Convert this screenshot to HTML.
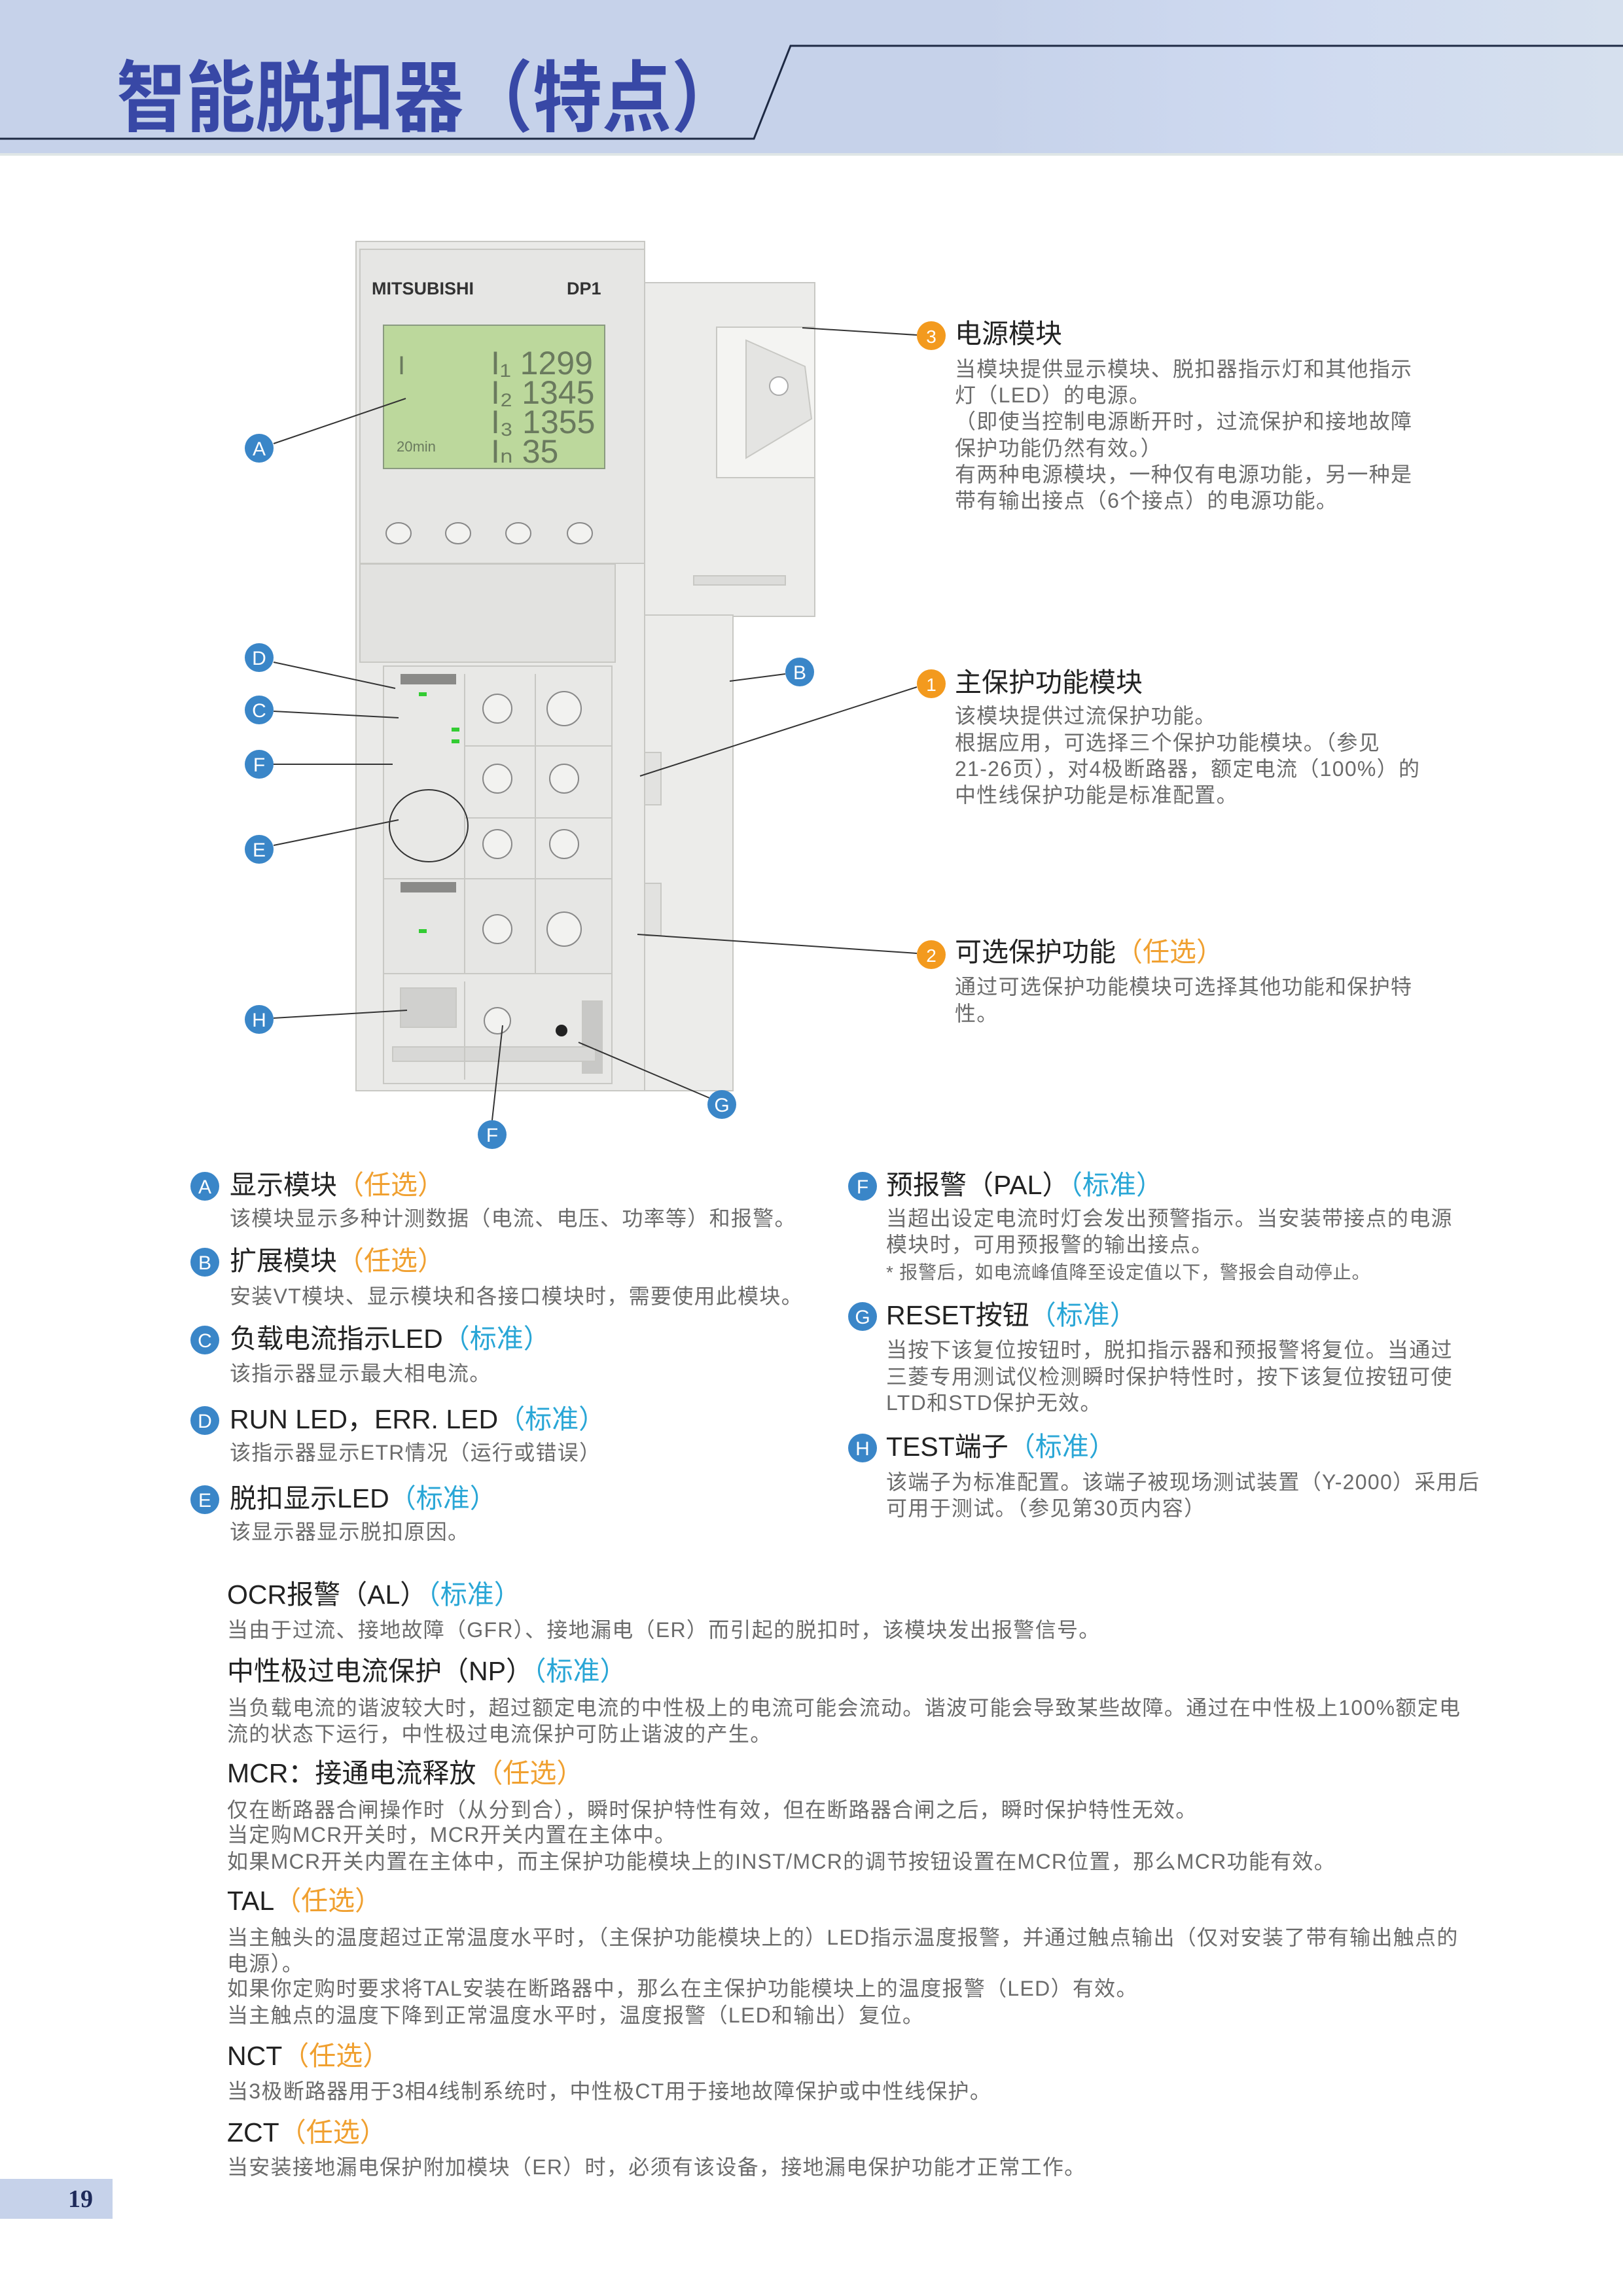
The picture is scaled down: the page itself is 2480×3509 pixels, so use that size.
<!DOCTYPE html>
<html><head><meta charset="utf-8">
<style>
html,body{margin:0;padding:0;}
body{width:2480px;height:3509px;position:relative;background:#fff;overflow:hidden;font-family:"Liberation Sans","Noto Sans CJK SC",sans-serif;}
.a{position:absolute;white-space:nowrap;}
.t{font-size:41px;line-height:44px;color:#222;}
.b{font-size:32px;line-height:36px;color:#6b6b6b;letter-spacing:1.3px;}
.n{font-size:28px;line-height:32px;color:#6b6b6b;letter-spacing:0.8px;}
.o{color:#f0a030;}
.c{color:#29a6d6;}
</style></head><body>
<!-- header -->
<div class="a" style="left:0;top:0;width:2480px;height:235px;background:linear-gradient(90deg,#c6d2ea 0%,#c6d2ea 60%,#cfdaf0 80%,#d6e0ee 100%);"></div>
<svg class="a" style="left:0;top:0" width="2480" height="240">
<polyline points="0,212 1152,212 1208,70 2480,70" fill="none" stroke="#1e2a44" stroke-width="3"/>
<line x1="0" y1="236" x2="2480" y2="236" stroke="#dfe6e6" stroke-width="4"/>
</svg>
<div class="a" style="left:178px;top:70px;font-size:106px;line-height:140px;color:#3848a6;font-weight:bold;font-family:'Noto Sans CJK SC',sans-serif;transform:scaleY(1.12);transform-origin:left center;">智能脱扣器（特点）</div>

<!-- device + callouts -->
<svg class="a" style="left:0;top:0" width="2480" height="2400">
<g stroke="#c8c8c4" stroke-width="2">
<rect x="985" y="432" width="260" height="510" fill="#ececea"/>
<rect x="1095" y="500" width="150" height="230" fill="#f4f4f2"/>
<polygon points="1140,520 1230,560 1240,640 1140,700" fill="#e4e4e2"/>
<circle cx="1190" cy="590" r="14" fill="#fff" stroke="#aaa"/>
<rect x="1060" y="880" width="140" height="14" fill="#dcdcda"/>
<rect x="935" y="940" width="185" height="727" fill="#ececea"/>
<rect x="970" y="1150" width="40" height="80" fill="#e2e2e0"/>
<rect x="970" y="1350" width="40" height="80" fill="#e2e2e0"/>
<rect x="544" y="369" width="441" height="1298" fill="#eaeae8"/>
<rect x="550" y="381" width="435" height="480" fill="#e6e6e4"/>
<rect x="586" y="497" width="338" height="219" fill="#bcd89c" stroke="#8a9a80"/>
<rect x="550" y="862" width="390" height="150" fill="#e2e2e0"/>
<rect x="586" y="1018" width="349" height="325" fill="#e8e8e6"/>
<rect x="586" y="1343" width="349" height="145" fill="#e6e6e4"/>
<rect x="586" y="1488" width="349" height="168" fill="#e8e8e6"/>
<rect x="612" y="1510" width="85" height="60" fill="#d0d0ce"/>
<rect x="890" y="1530" width="30" height="110" fill="#c8c8c6"/>
<rect x="600" y="1600" width="310" height="22" fill="#d8d8d6"/>
<line x1="710" y1="1030" x2="710" y2="1488"/><line x1="818" y1="1030" x2="818" y2="1488"/>
<line x1="710" y1="1140" x2="935" y2="1140"/><line x1="710" y1="1250" x2="935" y2="1250"/>
<line x1="710" y1="1500" x2="710" y2="1650"/>
</g>
<g fill="#f2f2f0" stroke="#888" stroke-width="2">
<ellipse cx="609" cy="815" rx="19" ry="16"/><ellipse cx="700" cy="815" rx="19" ry="16"/><ellipse cx="792" cy="815" rx="19" ry="16"/><ellipse cx="886" cy="815" rx="19" ry="16"/>
<circle cx="760" cy="1083" r="22"/><circle cx="862" cy="1083" r="26"/><circle cx="760" cy="1190" r="22"/><circle cx="862" cy="1190" r="22"/><circle cx="760" cy="1290" r="22"/><circle cx="862" cy="1290" r="22"/><circle cx="760" cy="1420" r="22"/><circle cx="862" cy="1420" r="26"/><circle cx="760" cy="1560" r="20"/>
</g>
<ellipse cx="655" cy="1262" rx="60" ry="55" fill="none" stroke="#333" stroke-width="2"/>
<rect x="612" y="1030" width="85" height="16" fill="#8a8a88"/>
<rect x="612" y="1348" width="85" height="16" fill="#8a8a88"/>
<g fill="#3c3"><rect x="640" y="1058" width="12" height="6"/><rect x="690" y="1112" width="12" height="6"/><rect x="690" y="1130" width="12" height="6"/><rect x="640" y="1420" width="12" height="6"/></g>
<circle cx="858" cy="1575" r="9" fill="#222"/>
<text x="568" y="450" font-family="Liberation Sans" font-weight="bold" font-size="27" fill="#333">MITSUBISHI</text>
<text x="866" y="450" font-family="Liberation Sans" font-weight="bold" font-size="27" fill="#333">DP1</text>
<g font-family="Liberation Sans" fill="#6a7a5e" font-size="50">
<text x="750" y="572">I₁ 1299</text><text x="750" y="617">I₂ 1345</text><text x="750" y="662">I₃ 1355</text><text x="750" y="707">Iₙ   35</text>
<text x="608" y="572" font-size="40">I</text><text x="606" y="690" font-size="22">20min</text>
</g>
<g stroke="#333" stroke-width="2">
<line x1="418" y1="678" x2="620" y2="609"/>
<line x1="418" y1="1012" x2="604" y2="1052"/>
<line x1="418" y1="1087" x2="609" y2="1097"/>
<line x1="418" y1="1168" x2="600" y2="1168"/>
<line x1="418" y1="1292" x2="609" y2="1253"/>
<line x1="418" y1="1556" x2="622" y2="1544"/>
<line x1="752" y1="1712" x2="768" y2="1567"/>
<line x1="1084" y1="1678" x2="884" y2="1593"/>
<line x1="1200" y1="1030" x2="1115" y2="1041"/>
<line x1="1401" y1="512" x2="1226" y2="501"/>
<line x1="1401" y1="1050" x2="978" y2="1186"/>
<line x1="1401" y1="1457" x2="974" y2="1428"/>
</g>
<g fill="#3a86c8">
<circle cx="396" cy="685" r="22"/><circle cx="396" cy="1005" r="22"/><circle cx="396" cy="1085" r="22"/><circle cx="396" cy="1168" r="22"/><circle cx="396" cy="1298" r="22"/><circle cx="396" cy="1558" r="22"/><circle cx="752" cy="1734" r="22"/><circle cx="1103" cy="1688" r="22"/><circle cx="1222" cy="1027" r="22"/>
<circle cx="313" cy="1813" r="22"/><circle cx="313" cy="1929" r="22"/><circle cx="313" cy="2048" r="22"/><circle cx="313" cy="2171" r="22"/><circle cx="313" cy="2292" r="22"/>
<circle cx="1318" cy="1813" r="22"/><circle cx="1318" cy="2012" r="22"/><circle cx="1318" cy="2213" r="22"/>
</g>
<g fill="#f39a1e"><circle cx="1423" cy="513" r="22"/><circle cx="1423" cy="1045" r="22"/><circle cx="1423" cy="1459" r="22"/></g>
<g font-family="Liberation Sans" font-size="30" fill="#fff" text-anchor="middle">
<text x="396" y="696">A</text><text x="396" y="1016">D</text><text x="396" y="1096">C</text><text x="396" y="1179">F</text><text x="396" y="1309">E</text><text x="396" y="1569">H</text><text x="752" y="1745">F</text><text x="1103" y="1699">G</text><text x="1222" y="1038">B</text>
<text x="313" y="1824">A</text><text x="313" y="1940">B</text><text x="313" y="2059">C</text><text x="313" y="2182">D</text><text x="313" y="2303">E</text>
<text x="1318" y="1824">F</text><text x="1318" y="2023">G</text><text x="1318" y="2224">H</text>
<text x="1423" y="524" font-size="28">3</text><text x="1423" y="1056" font-size="28">1</text><text x="1423" y="1470" font-size="28">2</text>
</g>
</svg>

<div class="a t" style="left:1459px;top:488px;">电源模块</div>
<div class="a b" style="left:1459px;top:546px;">当模块提供显示模块、脱扣器指示灯和其他指示</div>
<div class="a b" style="left:1459px;top:586px;">灯（LED）的电源。</div>
<div class="a b" style="left:1459px;top:626px;">（即使当控制电源断开时，过流保护和接地故障</div>
<div class="a b" style="left:1459px;top:667px;">保护功能仍然有效。）</div>
<div class="a b" style="left:1459px;top:707px;">有两种电源模块，一种仅有电源功能，另一种是</div>
<div class="a b" style="left:1459px;top:747px;">带有输出接点（6个接点）的电源功能。</div>

<div class="a t" style="left:1459px;top:1021px;">主保护功能模块</div>
<div class="a b" style="left:1459px;top:1076px;">该模块提供过流保护功能。</div>
<div class="a b" style="left:1459px;top:1117px;">根据应用，可选择三个保护功能模块。（参见</div>
<div class="a b" style="left:1459px;top:1157px;">21-26页），对4极断路器，额定电流（100%）的</div>
<div class="a b" style="left:1459px;top:1197px;">中性线保护功能是标准配置。</div>

<div class="a t" style="left:1459px;top:1433px;">可选保护功能<span class="o">（任选）</span></div>
<div class="a b" style="left:1459px;top:1490px;">通过可选保护功能模块可选择其他功能和保护特</div>
<div class="a b" style="left:1459px;top:1531px;">性。</div>

<div class="a t" style="left:351px;top:1789px;">显示模块<span class="o">（任选）</span></div>
<div class="a b" style="left:351px;top:1844px;">该模块显示多种计测数据（电流、电压、功率等）和报警。</div>
<div class="a t" style="left:351px;top:1905px;">扩展模块<span class="o">（任选）</span></div>
<div class="a b" style="left:351px;top:1963px;">安装VT模块、显示模块和各接口模块时，需要使用此模块。</div>
<div class="a t" style="left:351px;top:2024px;">负载电流指示LED<span class="c">（标准）</span></div>
<div class="a b" style="left:351px;top:2081px;">该指示器显示最大相电流。</div>
<div class="a t" style="left:351px;top:2147px;">RUN LED，ERR. LED<span class="c">（标准）</span></div>
<div class="a b" style="left:351px;top:2202px;">该指示器显示ETR情况（运行或错误）</div>
<div class="a t" style="left:351px;top:2268px;">脱扣显示LED<span class="c">（标准）</span></div>
<div class="a b" style="left:351px;top:2323px;">该显示器显示脱扣原因。</div>

<div class="a t" style="left:1354px;top:1789px;">预报警（PAL）<span class="c">（标准）</span></div>
<div class="a b" style="left:1354px;top:1844px;">当超出设定电流时灯会发出预警指示。当安装带接点的电源</div>
<div class="a b" style="left:1354px;top:1884px;">模块时，可用预报警的输出接点。</div>
<div class="a n" style="left:1354px;top:1929px;">* 报警后，如电流峰值降至设定值以下，警报会自动停止。</div>
<div class="a t" style="left:1354px;top:1988px;">RESET按钮<span class="c">（标准）</span></div>
<div class="a b" style="left:1354px;top:2045px;">当按下该复位按钮时，脱扣指示器和预报警将复位。当通过</div>
<div class="a b" style="left:1354px;top:2086px;">三菱专用测试仪检测瞬时保护特性时，按下该复位按钮可使</div>
<div class="a b" style="left:1354px;top:2126px;">LTD和STD保护无效。</div>
<div class="a t" style="left:1354px;top:2189px;">TEST端子<span class="c">（标准）</span></div>
<div class="a b" style="left:1354px;top:2247px;">该端子为标准配置。该端子被现场测试装置（Y-2000）采用后</div>
<div class="a b" style="left:1354px;top:2287px;">可用于测试。（参见第30页内容）</div>

<div class="a t" style="left:347px;top:2415px;">OCR报警（AL）<span class="c">（标准）</span></div>
<div class="a b" style="left:347px;top:2473px;">当由于过流、接地故障（GFR）、接地漏电（ER）而引起的脱扣时，该模块发出报警信号。</div>
<div class="a t" style="left:347px;top:2532px;">中性极过电流保护（NP）<span class="c">（标准）</span></div>
<div class="a b" style="left:347px;top:2592px;">当负载电流的谐波较大时，超过额定电流的中性极上的电流可能会流动。谐波可能会导致某些故障。通过在中性极上100%额定电</div>
<div class="a b" style="left:347px;top:2632px;">流的状态下运行，中性极过电流保护可防止谐波的产生。</div>
<div class="a t" style="left:347px;top:2688px;">MCR：接通电流释放<span class="o">（任选）</span></div>
<div class="a b" style="left:347px;top:2748px;">仅在断路器合闸操作时（从分到合），瞬时保护特性有效，但在断路器合闸之后，瞬时保护特性无效。</div>
<div class="a b" style="left:347px;top:2786px;">当定购MCR开关时，MCR开关内置在主体中。</div>
<div class="a b" style="left:347px;top:2827px;">如果MCR开关内置在主体中，而主保护功能模块上的INST/MCR的调节按钮设置在MCR位置，那么MCR功能有效。</div>
<div class="a t" style="left:347px;top:2883px;">TAL<span class="o">（任选）</span></div>
<div class="a b" style="left:347px;top:2943px;">当主触头的温度超过正常温度水平时，（主保护功能模块上的）LED指示温度报警，并通过触点输出（仅对安装了带有输出触点的</div>
<div class="a b" style="left:347px;top:2983px;">电源）。</div>
<div class="a b" style="left:347px;top:3021px;">如果你定购时要求将TAL安装在断路器中，那么在主保护功能模块上的温度报警（LED）有效。</div>
<div class="a b" style="left:347px;top:3062px;">当主触点的温度下降到正常温度水平时，温度报警（LED和输出）复位。</div>
<div class="a t" style="left:347px;top:3120px;">NCT<span class="o">（任选）</span></div>
<div class="a b" style="left:347px;top:3178px;">当3极断路器用于3相4线制系统时，中性极CT用于接地故障保护或中性线保护。</div>
<div class="a t" style="left:347px;top:3237px;">ZCT<span class="o">（任选）</span></div>
<div class="a b" style="left:347px;top:3294px;">当安装接地漏电保护附加模块（ER）时，必须有该设备，接地漏电保护功能才正常工作。</div>

<div class="a" style="left:0;top:3330px;width:172px;height:61px;background:#c6d2ea;"></div>
<div class="a" style="left:104px;top:3338px;font-family:'Liberation Serif',serif;font-weight:bold;font-size:38px;line-height:46px;color:#1e2a5a;">19</div>
</body></html>
